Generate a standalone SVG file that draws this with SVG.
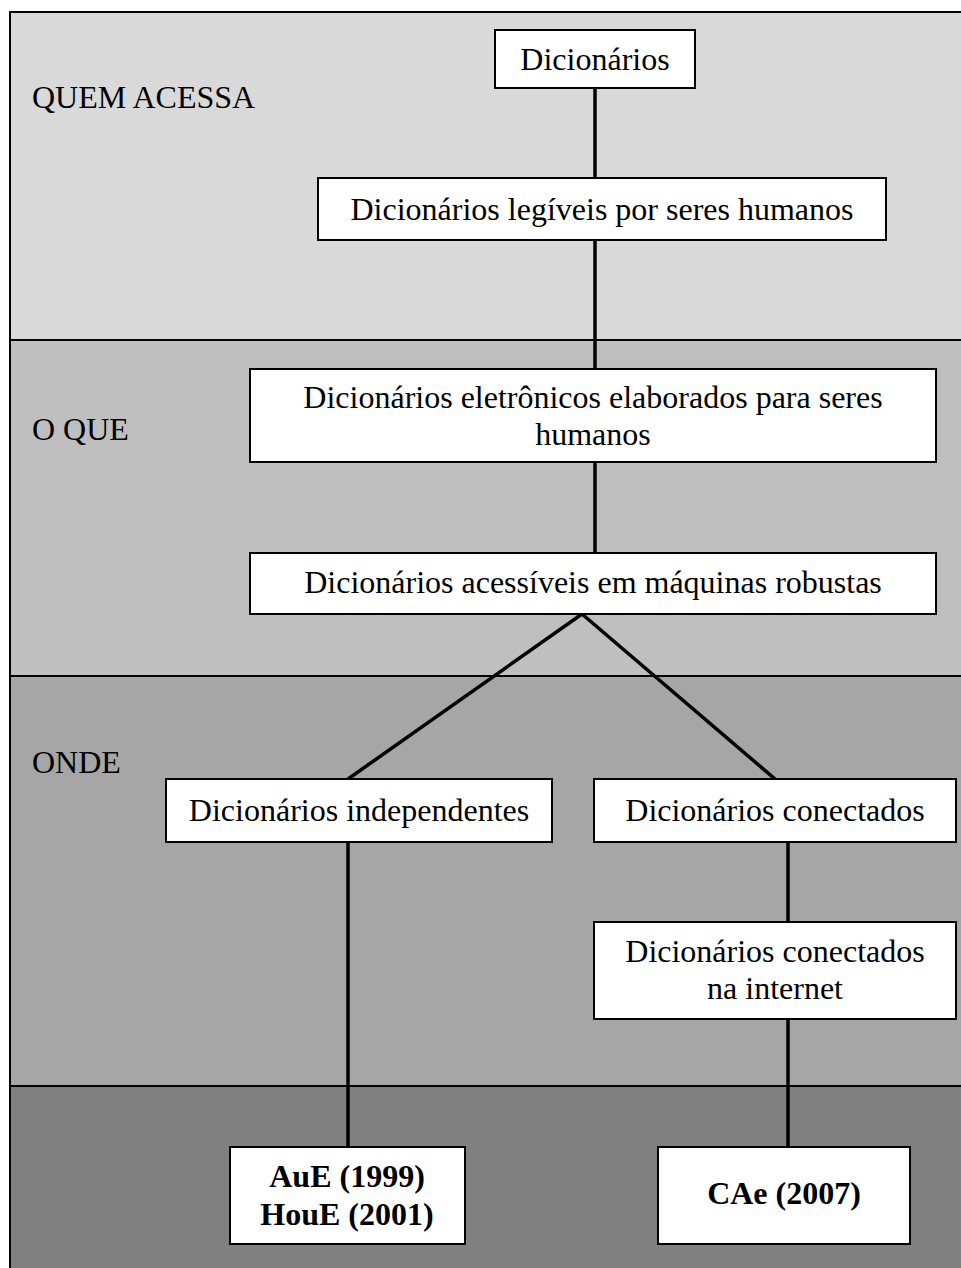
<svg xmlns="http://www.w3.org/2000/svg" width="961" height="1268" viewBox="0 0 961 1268">
<style>
.band{stroke:#000;stroke-width:2}
.box{fill:#fff;stroke:#000;stroke-width:2}
.t{font-family:"Liberation Serif","Times New Roman",serif;font-size:32px;fill:#000}
.c{text-anchor:middle}
.b{font-weight:bold}
.con line{stroke:#000;stroke-width:3.5}
</style>
<rect width="961" height="1268" fill="#fff"/>
<g id="bands">
<rect class="band" x="10" y="12" width="970" height="328" fill="#d9d9d9"/>
<rect class="band" x="10" y="340" width="970" height="336" fill="#bfbfbf"/>
<rect class="band" x="10" y="676" width="970" height="410" fill="#a6a6a6"/>
<rect class="band" x="10" y="1086" width="970" height="200" fill="#808080"/>
<text class="t" x="32" y="108">QUEM ACESSA</text>
<text class="t" x="32" y="440">O QUE</text>
<text class="t" x="32" y="773">ONDE</text>
</g>
<g class="con" id="connectors">
<line x1="595" y1="88" x2="595" y2="178"/>
<line x1="595" y1="240" x2="595" y2="369"/>
<line x1="595" y1="462" x2="595" y2="553"/>
<line x1="582" y1="614" x2="348" y2="779"/>
<line x1="582" y1="614" x2="775" y2="779"/>
<line x1="348" y1="842" x2="348" y2="1147"/>
<line x1="788" y1="842" x2="788" y2="922"/>
<line x1="788" y1="1019" x2="788" y2="1147"/>
</g>
<g id="n1"><rect class="box" x="495" y="30" width="200" height="58"/><text class="t c" x="595" y="70">Dicionários</text></g>
<g id="n2"><rect class="box" x="318" y="178" width="568" height="62"/><text class="t c" x="602" y="220">Dicionários legíveis por seres humanos</text></g>
<g id="n3"><rect class="box" x="250" y="369" width="686" height="93"/><text class="t c" x="593" y="408">Dicionários eletrônicos elaborados para seres</text><text class="t c" x="593" y="445">humanos</text></g>
<g id="n4"><rect class="box" x="250" y="553" width="686" height="61"/><text class="t c" x="593" y="593">Dicionários acessíveis em máquinas robustas</text></g>
<g id="n5"><rect class="box" x="166" y="779" width="386" height="63"/><text class="t c" x="359" y="821">Dicionários independentes</text></g>
<g id="n6"><rect class="box" x="594" y="779" width="362" height="63"/><text class="t c" x="775" y="821">Dicionários conectados</text></g>
<g id="n7"><rect class="box" x="594" y="922" width="362" height="97"/><text class="t c" x="775" y="962">Dicionários conectados</text><text class="t c" x="775" y="999">na internet</text></g>
<g id="n8"><rect class="box" x="230" y="1147" width="235" height="97"/><text class="t c b" x="347" y="1187">AuE (1999)</text><text class="t c b" x="347" y="1225">HouE (2001)</text></g>
<g id="n9"><rect class="box" x="658" y="1147" width="252" height="97"/><text class="t c b" x="784" y="1204">CAe (2007)</text></g>
</svg>
